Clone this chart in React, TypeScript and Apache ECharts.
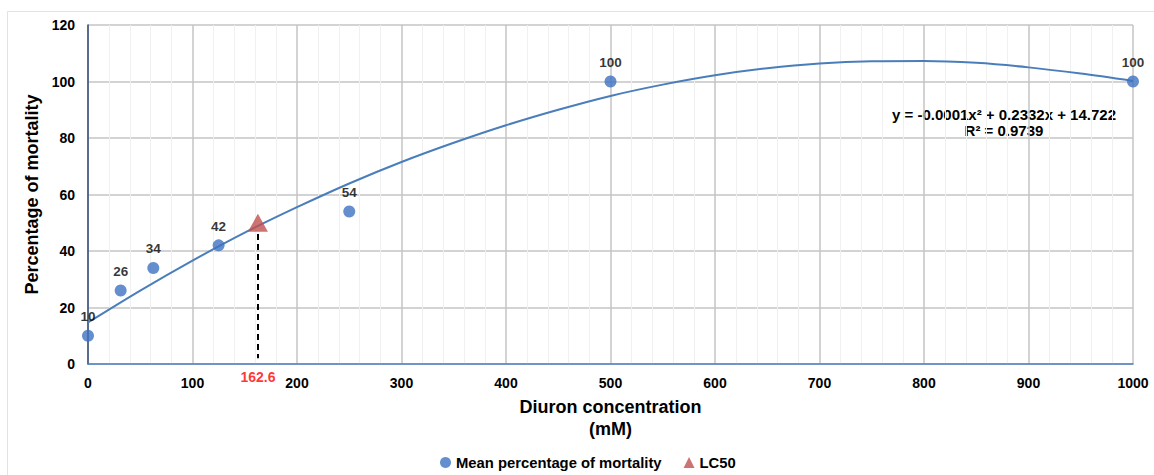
import React, { useEffect, useRef } from "react";
import * as echarts from "echarts";

const concentrations = [0, 31.25, 62.5, 125, 250, 500, 1000];
const mortality = [10, 26, 34, 42, 54, 100, 100];
const trendX = [0, 50, 100, 150, 200, 250, 300, 350, 400, 450, 500, 550, 600, 650, 700, 750, 800, 850, 900, 950, 1000];
const trendY = [14.7, 26.0, 36.6, 46.5, 55.5, 63.9, 71.5, 78.3, 84.5, 90.0, 94.9, 98.9, 102.2, 104.7, 106.4, 107.2, 107.3, 106.6, 105.0, 102.8, 100.2];
const lc50X = 162.6;
const lc50Y = 50;
const equationLines = ["y = -0.0001x\u00B2 + 0.2332x + 14.722", "R\u00B2 = 0.9739"];

const FONT = "'Liberation Sans', Arial, sans-serif";

export default function App() {
  const ref = useRef<HTMLDivElement>(null);
  useEffect(() => {
    const chart = echarts.init(ref.current!, null, { renderer: "svg" });
    chart.setOption({
      animation: false,
      backgroundColor: "#fff",
      textStyle: { fontFamily: FONT },
      grid: { left: 88, right: 21, top: 25, bottom: 111, containLabel: false },
      xAxis: {
        type: "value",
        min: 0,
        max: 1000,
        interval: 100,
        name: "Diuron concentration\n(mM)",
        nameLocation: "middle",
        nameGap: 32,
        nameTextStyle: { fontSize: 18, fontWeight: "bold", color: "#000", lineHeight: 22, fontFamily: FONT },
        axisLine: { show: true, lineStyle: { color: "#4f7fbf", width: 1.5 } },
        axisTick: { show: false },
        axisLabel: {
          fontSize: 14,
          fontWeight: "bold",
          color: "#000",
          margin: 12,
          fontFamily: FONT,
          formatter: (v: number) => String(v),
        },
        splitLine: { show: true, lineStyle: { color: "#c4c4c4", width: 1.5 } },
        minorTick: { show: false, splitNumber: 5 },
        minorSplitLine: { show: true, lineStyle: { color: "#f0f0f0", width: 1 } },
      },
      yAxis: {
        type: "value",
        min: 0,
        max: 120,
        interval: 20,
        name: "Percentage of mortality",
        nameLocation: "middle",
        nameGap: 38,
        nameTextStyle: { fontSize: 18, fontWeight: "bold", color: "#000", fontFamily: FONT },
        axisLine: { show: true, lineStyle: { color: "#2f4a7a", width: 1.5 } },
        axisTick: { show: false },
        axisLabel: { fontSize: 14, fontWeight: "bold", color: "#000", margin: 13, fontFamily: FONT },
        splitLine: { show: true, lineStyle: { color: "#c4c4c4", width: 1.5 } },
      },
      legend: {
        data: [
          { name: "Mean percentage of mortality", icon: "circle", itemStyle: { color: "#3d72c0" } },
          { name: "LC50", icon: "triangle", itemStyle: { color: "#c0504d" } },
        ],
        left: 435,
        top: 450,
        itemWidth: 11,
        itemHeight: 11,
        itemGap: 22,
        textStyle: { fontSize: 14.8, fontWeight: "bold", color: "#000", fontFamily: FONT },
      },
      series: [
        {
          name: "trend",
          type: "line",
          data: trendX.map((x, i) => [x, trendY[i]]),
          smooth: 0.3,
          showSymbol: false,
          lineStyle: { color: "#4a7ebb", width: 2 },
          z: 2,
        },
        {
          name: "Mean percentage of mortality",
          type: "scatter",
          data: concentrations.map((x, i) => [x, mortality[i]]),
          symbol: "circle",
          symbolSize: 12,
          itemStyle: { color: "#3d72c0" },
          label: {
            show: true,
            position: "top",
            distance: 6,
            formatter: (p: any) => String(p.value[1]),
            fontSize: 13.5,
            fontWeight: "bold",
            color: "#000",
            fontFamily: FONT,
          },
          z: 3,
        },
        {
          name: "LC50",
          type: "scatter",
          data: [[lc50X, lc50Y]],
          symbol: "triangle",
          symbolSize: [20, 18],
          itemStyle: { color: "#c0504d" },
          z: 4,
          markLine: {
            silent: true,
            symbol: "none",
            label: { show: false },
            lineStyle: { color: "#000", type: [6, 4], width: 2 },
            data: [[{ coord: [lc50X, 46] }, { coord: [lc50X, 2] }]],
          },
        },
        {
          name: "lc50label",
          type: "scatter",
          data: [[lc50X, 0]],
          symbolSize: 0,
          label: {
            show: true,
            position: "bottom",
            distance: 6,
            formatter: () => String(lc50X),
            fontSize: 14,
            fontWeight: "bold",
            color: "#ff0000",
            fontFamily: FONT,
          },
          z: 5,
        },
      ],
      graphic: [
        {
          type: "rect",
          shape: { x: 7.5, y: 11.5, width: 1160, height: 470 },
          style: { fill: "none", stroke: "#dbe4f0", lineWidth: 1 },
          silent: true,
        },
        {
          type: "text",
          x: 1004,
          y: 106,
          style: {
            text: equationLines.join("\n"),
            align: "center",
            fontSize: 15,
            fontWeight: "bold",
            fill: "#000",
            lineHeight: 16,
            fontFamily: FONT,
          },
        },
      ],
    });
    return () => chart.dispose();
  }, []);
  return (
    <div
      ref={ref}
      style={{ position: "fixed", left: 0, top: 0, width: 1154, height: 475, background: "#fff" }}
    />
  );
}
